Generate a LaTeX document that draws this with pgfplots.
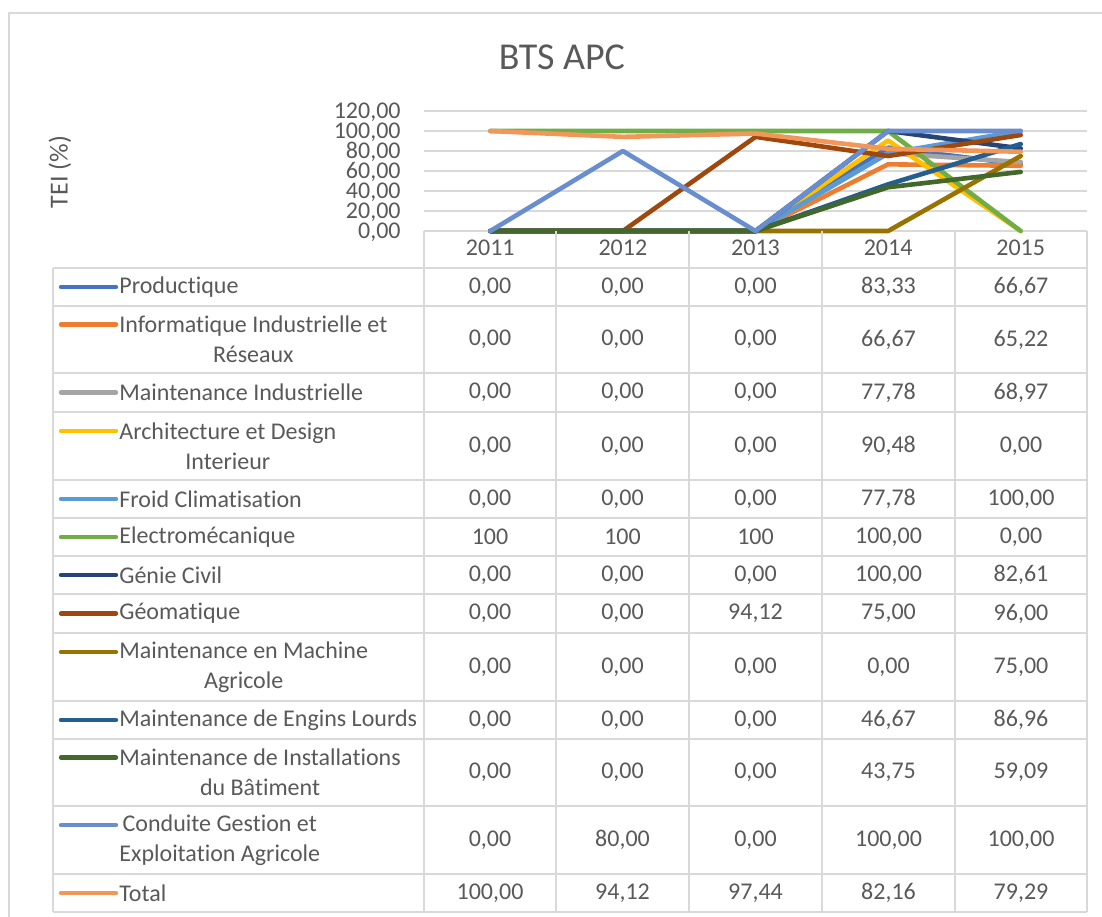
\documentclass[border=0pt]{standalone}
\usepackage{fontspec}
\setmainfont[Ligatures=NoCommon]{Carlito}
\usepackage{pgfplots}
\pgfplotsset{compat=1.18}
\definecolor{c1}{HTML}{4472C4}
\definecolor{c2}{HTML}{ED7D31}
\definecolor{c3}{HTML}{A5A5A5}
\definecolor{c4}{HTML}{FFC000}
\definecolor{c5}{HTML}{5B9BD5}
\definecolor{c6}{HTML}{70AD47}
\definecolor{c7}{HTML}{264478}
\definecolor{c8}{HTML}{9E480E}
\definecolor{c9}{HTML}{997300}
\definecolor{c10}{HTML}{255E91}
\definecolor{c11}{HTML}{43682B}
\definecolor{c12}{HTML}{698ED0}
\definecolor{c13}{HTML}{F1975A}
\definecolor{txt}{HTML}{595959}
\definecolor{grd}{HTML}{D9D9D9}
\newcommand{\bodyfont}{\fontsize{12}{15}\selectfont}
\begin{document}
\begin{tikzpicture}[x=0.5pt,y=-0.5pt]
\useasboundingbox (0,0) rectangle (1102,916);
\draw[grd, line width=1pt] (9,920) -- (9,13) -- (1110,13);
\node[text=txt, font=\fontsize{19}{21}\selectfont] at (562,57) {BTS APC};
\node[text=txt, rotate=90, font=\fontsize{13}{14}\selectfont] at (60,172) {TEI (\%)};
\begin{axis}[
  at={(212pt,-115.5pt)}, anchor=south west,
  width=331.5pt, height=60pt, scale only axis,
  xmin=0.5, xmax=5.5, ymin=0, ymax=120,
  clip=false,
  axis line style={draw=none},
  major tick length=0pt,
  ymajorgrids, grid style={grd, line width=1pt},
  ytick={0,20,40,60,80,100,120},
  yticklabels={{0,00},{20,00},{40,00},{60,00},{80,00},{100,00},{120,00}},
  yticklabel style={text=txt, font=\bodyfont, inner sep=0pt, text height=7.6pt, text depth=0pt, xshift=-11.5pt},
  xtick={1,2,3,4,5},
  xticklabels={2011,2012,2013,2014,2015},
  xticklabel style={text=txt, font=\bodyfont, anchor=center, inner sep=0pt, yshift=-8.5pt},
  every axis plot/.append style={line width=2.3pt, line join=round, line cap=round},
]
\addplot[c1] coordinates {(1,0)(2,0)(3,0)(4,83.33)(5,66.67)};
\addplot[c2] coordinates {(1,0)(2,0)(3,0)(4,66.67)(5,65.22)};
\addplot[c3] coordinates {(1,0)(2,0)(3,0)(4,77.78)(5,68.97)};
\addplot[c4] coordinates {(1,0)(2,0)(3,0)(4,90.48)(5,0)};
\addplot[c5] coordinates {(1,0)(2,0)(3,0)(4,77.78)(5,100)};
\addplot[c6] coordinates {(1,100)(2,100)(3,100)(4,100)(5,0)};
\addplot[c7] coordinates {(1,0)(2,0)(3,0)(4,100)(5,82.61)};
\addplot[c8] coordinates {(1,0)(2,0)(3,94.12)(4,75)(5,96)};
\addplot[c9] coordinates {(1,0)(2,0)(3,0)(4,0)(5,75)};
\addplot[c10] coordinates {(1,0)(2,0)(3,0)(4,46.67)(5,86.96)};
\addplot[c11] coordinates {(1,0)(2,0)(3,0)(4,43.75)(5,59.09)};
\addplot[c12] coordinates {(1,0)(2,80)(3,0)(4,100)(5,100)};
\addplot[c13] coordinates {(1,100)(2,94.12)(3,97.44)(4,82.16)(5,79.29)};
\end{axis}
% table grid
\foreach \yy in {268,306,373,412,480,518,556,594,633,701,739,806,874,912}
  \draw[grd, line width=1pt] (53,\yy) -- (1087,\yy);
\draw[grd, line width=1pt] (53,268) -- (53,912);
\foreach \xx in {424,556,689,822,955,1087}
  \draw[grd, line width=1pt] (\xx,231) -- (\xx,912);
% rows
\begin{scope}[every node/.style={text=txt, font=\bodyfont, inner sep=0pt}]
\foreach \c/\yc/\ky/\lab/\va/\vb/\vc/\vd/\ve in {
  c1/287/287/{Productique}/{0,00}/{0,00}/{0,00}/{83,33}/{66,67},
  c2/339.5/324.5/{Informatique Industrielle et\\Réseaux}/{0,00}/{0,00}/{0,00}/{66,67}/{65,22},
  c3/392.5/392.5/{Maintenance Industrielle}/{0,00}/{0,00}/{0,00}/{77,78}/{68,97},
  c4/446/431/{Architecture et Design\\Interieur}/{0,00}/{0,00}/{0,00}/{90,48}/{0,00},
  c5/499/499/{Froid Climatisation}/{0,00}/{0,00}/{0,00}/{77,78}/{100,00},
  c6/537/537/{Electromécanique}/{100}/{100}/{100}/{100,00}/{0,00},
  c7/575/575/{Génie Civil}/{0,00}/{0,00}/{0,00}/{100,00}/{82,61},
  c8/613.5/613.5/{Géomatique}/{0,00}/{0,00}/{94,12}/{75,00}/{96,00},
  c9/667/652/{Maintenance en Machine\\Agricole}/{0,00}/{0,00}/{0,00}/{0,00}/{75,00},
  c10/720/720/{Maintenance de Engins Lourds}/{0,00}/{0,00}/{0,00}/{46,67}/{86,96},
  c11/772.5/757.5/{Maintenance de Installations\\du Bâtiment}/{0,00}/{0,00}/{0,00}/{43,75}/{59,09},
  c12/840/825/{Conduite Gestion et\\Exploitation Agricole}/{0,00}/{80,00}/{0,00}/{100,00}/{100,00},
  c13/893/893/{Total}/{100,00}/{94,12}/{97,44}/{82,16}/{79,29}}{
  \draw[\c, line width=2.2pt, line cap=round] (61,\ky) -- (116,\ky);
  \node[anchor=west, align=center] at (119,\yc) {\lab};
  \node at (490,\yc) {\va};
  \node at (622.5,\yc) {\vb};
  \node at (755.5,\yc) {\vc};
  \node at (888.5,\yc) {\vd};
  \node at (1021,\yc) {\ve};
}
\end{scope}
\end{tikzpicture}
\end{document}
